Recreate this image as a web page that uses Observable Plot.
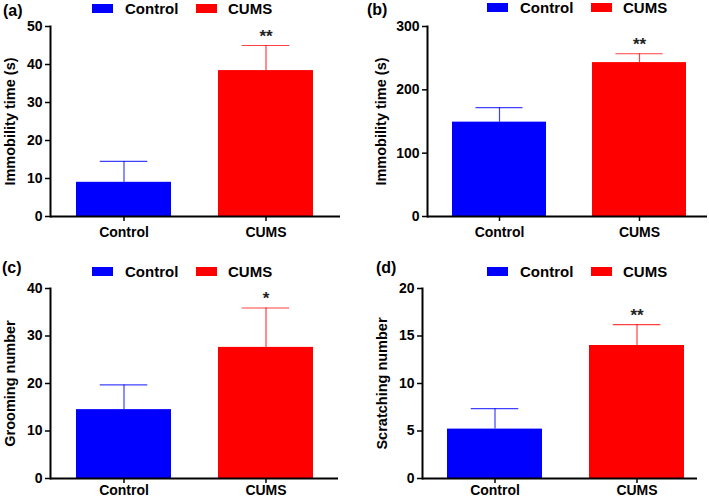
<!DOCTYPE html>
<html><head><meta charset="utf-8">
<script src="https://cdn.jsdelivr.net/npm/d3@7"></script>
<script src="https://cdn.jsdelivr.net/npm/@observablehq/plot@0.6"></script>
<style>
body{margin:0;background:#fff;font-family:"Liberation Sans",Arial,sans-serif;}
#root{position:relative;width:709px;height:499px;overflow:hidden;background:#fff}
.panel{position:absolute}
.panel svg{position:absolute;left:0;top:0}
.box{position:absolute;width:21px;height:9px}
.lt{position:absolute;font-size:15px;font-weight:bold;line-height:17px;white-space:nowrap;color:#000}
.pl{position:absolute;font-size:16px;font-weight:bold;line-height:18px;color:#000}
</style></head><body><div id="root"></div>
<script>
const groups = ["Control", "CUMS"];
const colors = ["#0000ff", "#ff0000"];
const panelLabels = ["(a)", "(b)", "(c)", "(d)"];
const yLabels = ["Immobility time (s)", "Immobility time (s)", "Grooming number", "Scratching number"];

const meansA = [9.0, 38.4];  const sdA = [5.5, 6.6];   const sigA = ["", "**"];
const meansB = [149, 243];   const sdB = [23, 14];     const sigB = ["", "**"];
const meansC = [14.5, 27.6]; const sdC = [5.2, 8.3];   const sigC = ["", "*"];
const meansD = [5.2, 14.0];  const sdD = [2.15, 2.2];  const sigD = ["", "**"];

const yTicksA = [0, 10, 20, 30, 40, 50];
const yTicksB = [0, 100, 200, 300];
const yTicksC = [0, 10, 20, 30, 40];
const yTicksD = [0, 5, 10, 15, 20];

const panels = [
  {means: meansA, sd: sdA, sig: sigA, ticks: yTicksA, label: panelLabels[0], ylab: yLabels[0],
   left: 0, top: 0, w: 354, h: 250, mL: 50, mR: 14, mT: 26, mB: 34, xr: [76, 313], yl: 10,
   lgX: 92, lgY: 4, plX: 3, plY: 2, xpad: 6},
  {means: meansB, sd: sdB, sig: sigB, ticks: yTicksB, label: panelLabels[1], ylab: yLabels[1],
   left: 354, top: 0, w: 355, h: 250, mL: 73, mR: 2, mT: 26, mB: 34, xr: [98, 332], yl: 27,
   lgX: 133, lgY: 3, plX: 13, plY: 1, xpad: 6},
  {means: meansC, sd: sdC, sig: sigC, ticks: yTicksC, label: panelLabels[2], ylab: yLabels[2],
   left: 0, top: 250, w: 354, h: 249, mL: 50, mR: 16, mT: 38, mB: 21, xr: [76, 313], yl: 10,
   lgX: 92, lgY: 17, plX: 2, plY: 9, xpad: 2},
  {means: meansD, sd: sdD, sig: sigD, ticks: yTicksD, label: panelLabels[3], ylab: yLabels[3],
   left: 354, top: 250, w: 355, h: 249, mL: 68, mR: 12, mT: 38, mB: 21, xr: [93, 330], yl: 28,
   lgX: 133, lgY: 17, plX: 22, plY: 9, xpad: 2}
];

const root = document.getElementById("root");
for (const p of panels) {
  const data = groups.map((g, i) => ({group: g, mean: p.means[i], top: p.means[i] + p.sd[i], sig: p.sig[i]}));
  const div = document.createElement("div");
  div.className = "panel";
  Object.assign(div.style, {left: p.left + "px", top: p.top + "px", width: p.w + "px", height: p.h + "px"});
  const bw = (p.xr[1] - p.xr[0]) / (2 - 0.331) * (1 - 0.331);
  const inset = bw / 4;
  const chart = Plot.plot({
    width: p.w, height: p.h,
    marginLeft: p.mL, marginRight: p.mR, marginTop: p.mT, marginBottom: p.mB,
    x: {domain: groups, range: p.xr, paddingInner: 0.331, paddingOuter: 0, axis: null, label: null},
    y: {domain: [0, p.ticks[p.ticks.length - 1]], axis: null, label: null},
    color: {domain: groups, range: colors},
    style: {fontFamily: '"Liberation Sans", Arial, sans-serif', fontSize: "14px", fontWeight: "bold", color: "#000", background: "transparent", overflow: "visible"},
    marks: [
      Plot.barY(data, {x: "group", y: "mean", fill: "group"}),
      Plot.ruleX(data, {x: "group", y1: "mean", y2: "top", stroke: "group", strokeWidth: 1.2, strokeOpacity: 0.75}),
      Plot.tickY(data, {x: "group", y: "top", stroke: "group", strokeWidth: 1.2, strokeOpacity: 0.75, insetLeft: inset, insetRight: inset}),
      Plot.text(data, {x: "group", y: "top", text: "sig", dy: -9, fontSize: 17, fill: "#222"}),
      Plot.frame({anchor: "left", stroke: "#000", strokeWidth: 2}),
      Plot.ruleY([0], {stroke: "#000", strokeWidth: 2}),
      Plot.axisY({ticks: p.ticks, tickSize: 5, tickPadding: 3, strokeWidth: 1.5, fontSize: 14, label: null}),
      Plot.axisX({tickSize: 5, tickPadding: p.xpad, strokeWidth: 1.5, fontSize: 14, label: null}),
      Plot.text([p.ylab], {frameAnchor: "left", textAnchor: "middle", lineAnchor: "middle", rotate: -90, dx: p.yl - p.mL, fontSize: 14.5, fill: "#000"})
    ]
  });
  div.appendChild(chart);
  const add = (cls, x, y, txt, bg) => {
    const e = document.createElement("div");
    e.className = cls;
    e.style.left = x + "px"; e.style.top = y + "px";
    if (bg) e.style.background = bg;
    if (txt) e.textContent = txt;
    div.appendChild(e);
  };
  add("box", p.lgX, p.lgY, null, colors[0]);
  add("lt", p.lgX + 33, p.lgY - 4, groups[0]);
  add("box", p.lgX + 104, p.lgY, null, colors[1]);
  add("lt", p.lgX + 136, p.lgY - 4, groups[1]);
  add("pl", p.plX, p.plY, p.label);
  root.appendChild(div);
}
</script>
</body></html>
